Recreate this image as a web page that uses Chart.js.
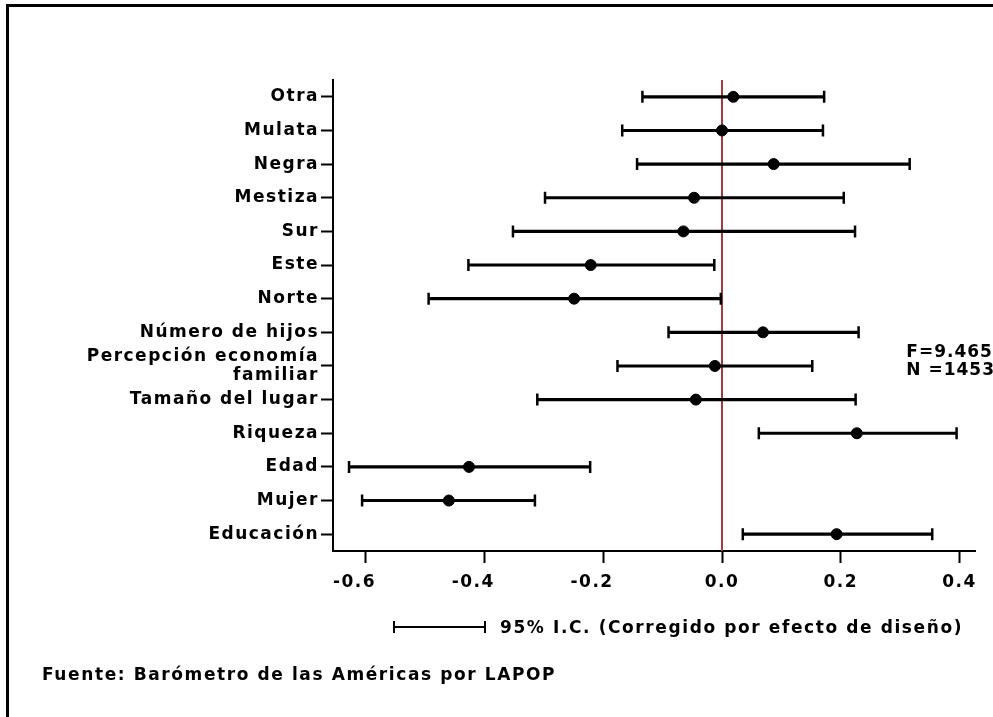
<!DOCTYPE html>
<html>
<head>
<meta charset="utf-8">
<script src="https://cdn.jsdelivr.net/npm/chart.js@4"></script>
<style>
body{margin:0;background:#fff;width:993px;height:717px;overflow:hidden;position:relative;font-family:"DejaVu Sans",sans-serif;font-weight:bold;color:#000;}
#frame{position:absolute;left:6px;top:4px;right:-10px;bottom:-10px;border-top:3px solid #000;border-left:3px solid #000;}
#wrap{position:absolute;left:0;top:0;width:993px;height:717px;}
.txt{position:absolute;font-size:17px;letter-spacing:1.6px;white-space:nowrap;}
#stats{right:-2px;top:342px;line-height:18px;text-align:left;letter-spacing:1px;}
#ci{left:500px;top:617px;}
#ciline{position:absolute;left:393px;top:626px;width:93px;height:2px;background:#000;}
#ciline:before,#ciline:after{content:"";position:absolute;top:-5px;width:2px;height:12px;background:#000;}
#ciline:before{left:0;}#ciline:after{right:0;}
#src{left:42px;top:664px;}
</style>
</head>
<body>
<div id="frame"></div>
<div id="wrap"><canvas id="c" width="993" height="717"></canvas></div>
<div class="txt" id="stats">F=9.465<br>N =1453</div>
<div id="ciline"></div>
<div class="txt" id="ci">95% I.C. (Corregido por efecto de diseño)</div>
<div class="txt" id="src">Fuente: Barómetro de las Américas por LAPOP</div>
<script>
const categories = ['Otra','Mulata','Negra','Mestiza','Sur','Este','Norte','Número de hijos',['Percepción economía','familiar'],'Tamaño del lugar','Riqueza','Edad','Mujer','Educación'];
const estimates = [0.019,0.000,0.087,-0.047,-0.065,-0.221,-0.249,0.069,-0.012,-0.044,0.227,-0.426,-0.460,0.193];
const lower = [-0.134,-0.168,-0.143,-0.298,-0.352,-0.427,-0.494,-0.090,-0.176,-0.311,0.062,-0.628,-0.606,0.035];
const upper = [0.172,0.170,0.316,0.205,0.224,-0.013,-0.002,0.230,0.152,0.225,0.395,-0.222,-0.315,0.354];
const xTicks = [-0.6,-0.4,-0.2,0.0,0.2,0.4];

const font = {family:'"DejaVu Sans", sans-serif', weight:'bold', size:17, lineHeight:1.08};

// the original text is stretched sideways
const spacing = {
id:'spacing',
beforeLayout(chart){ chart.ctx.letterSpacing='1.5px'; },
beforeDraw(chart){ chart.ctx.letterSpacing='1.5px'; }
};

const zeroLine = {
id:'zeroLine',
beforeDatasetsDraw(chart){
const {ctx, chartArea, scales} = chart;
const x = scales.x.getPixelForValue(0);
ctx.save();
ctx.strokeStyle = '#a23b3e';
ctx.lineWidth = 2;
ctx.beginPath();
ctx.moveTo(x, chartArea.top);
ctx.lineTo(x, chartArea.bottom);
ctx.stroke();
ctx.restore();
}
};

new Chart(document.getElementById('c'), {
type:'bar',
data:{
labels:categories,
datasets:[
{
type:'line',
data:estimates,
showLine:false,
pointRadius:5.5,
pointBackgroundColor:'#000',
pointBorderColor:'#000',
order:0
},
{
type:'line',
data:lower,
showLine:false,
pointStyle:'line',
rotation:90,
pointRadius:6,
pointBorderWidth:2.5,
pointBorderColor:'#000',
order:1
},
{
type:'line',
data:upper,
showLine:false,
pointStyle:'line',
rotation:90,
pointRadius:6,
pointBorderWidth:2.5,
pointBorderColor:'#000',
order:1
},
{
data:lower.map((l,i)=>[l,upper[i]]),
backgroundColor:'#000',
barThickness:2.5,
order:2
}
]
},
options:{
indexAxis:'y',
responsive:false,
animation:false,
layout:{padding:{left:0,top:80,right:18,bottom:116}},
plugins:{legend:{display:false},tooltip:{enabled:false}},
scales:{
x:{
min:-0.655,
max:0.426,
afterBuildTicks(s){ s.ticks = xTicks.map(v=>({value:v})); },
afterFit(s){ s.height = 50; },
border:{color:'#000',width:2},
grid:{drawOnChartArea:false,color:'#000',tickLength:12,tickWidth:2},
// negative labels sit a bit left of their tick in the original
ticks:{color:'#000',font:font,padding:10,maxRotation:0,callback:v=>v<0 ? v.toFixed(1)+'   ' : v.toFixed(1)}
},
y:{
afterFit(s){ s.width = 333; },
border:{color:'#000',width:2},
grid:{drawOnChartArea:false,offset:false,color:'#000',tickLength:12,tickWidth:2},
ticks:{color:'#000',font:font,padding:2,autoSkip:false}
}
}
},
plugins:[spacing,zeroLine]
});
</script>
</body>
</html>
